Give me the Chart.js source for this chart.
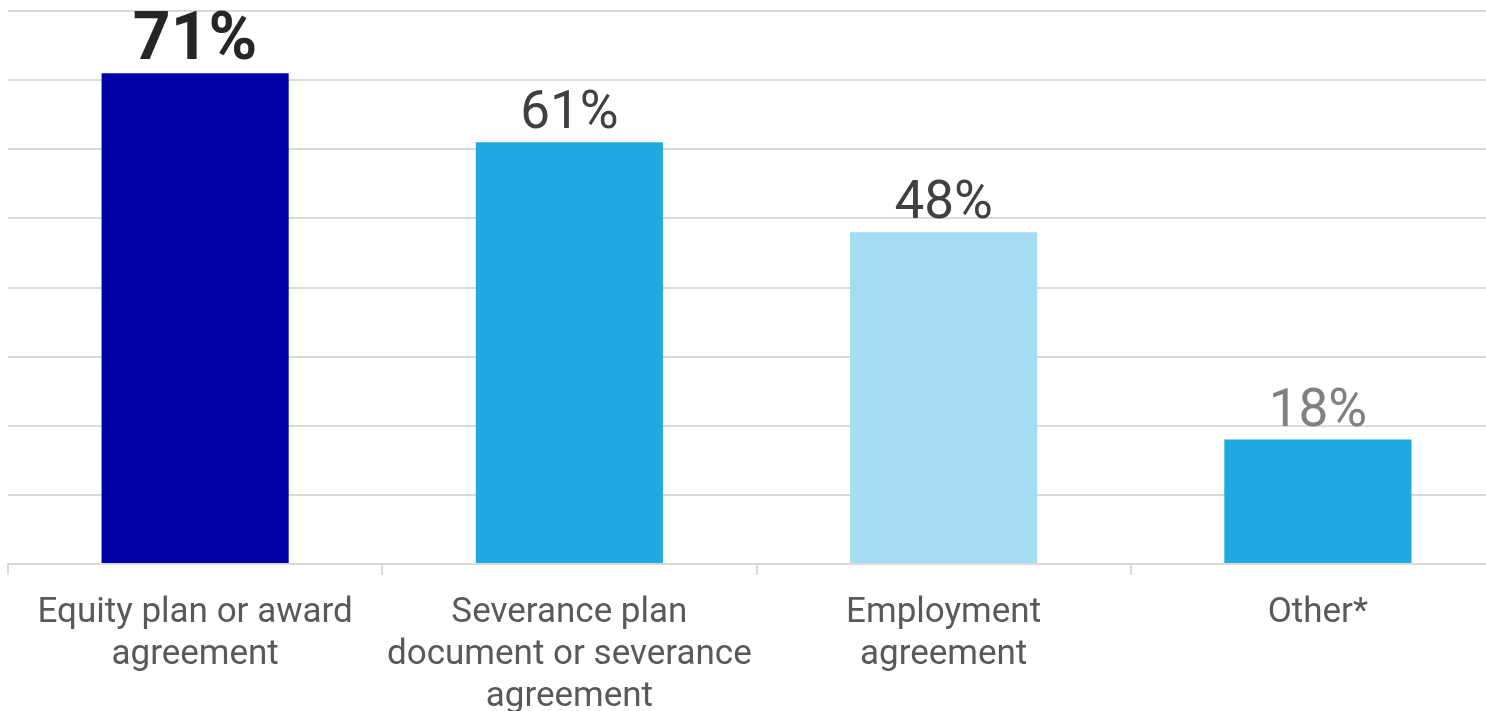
<!DOCTYPE html>
<html>
<head>
<meta charset="utf-8">
<script src="https://cdn.jsdelivr.net/npm/chart.js@4.4.0/dist/chart.umd.min.js"></script>
<style>
  html, body { margin: 0; padding: 0; background: #fff; overflow: hidden; }
  #wrap { width: 1505px; height: 711px; }
</style>
</head>
<body>
<div id="wrap"><canvas id="chart"></canvas></div>
<script>
const categories = [
  ['Equity plan or award', 'agreement'],
  ['Severance plan', 'document or severance', 'agreement'],
  ['Employment', 'agreement'],
  ['Other*']
];
const shares = [71, 61, 48, 18];
const barColors = ['#0000A8', '#1EABE2', '#A4DDF3', '#1EABE2'];
const valueStyles = [
  { font: 'bold 66px Roboto', color: '#262626' },
  { font: '53px Roboto', color: '#404040' },
  { font: '53px Roboto', color: '#404040' },
  { font: '53px Roboto', color: '#808080' }
];

// value labels above each bar
const valueLabels = {
  id: 'valueLabels',
  afterDatasetsDraw(chart) {
    const ctx = chart.ctx;
    const meta = chart.getDatasetMeta(0);
    ctx.save();
    ctx.textAlign = 'center';
    ctx.textBaseline = 'alphabetic';
    meta.data.forEach((bar, i) => {
      ctx.font = valueStyles[i].font;
      ctx.fillStyle = valueStyles[i].color;
      ctx.fillText(shares[i] + '%', bar.x, bar.y - 14);
    });
    ctx.restore();
  }
};

new Chart(document.getElementById('chart'), {
  type: 'bar',
  data: {
    labels: categories,
    datasets: [{
      data: shares,
      backgroundColor: barColors,
      barPercentage: 0.5,
      categoryPercentage: 1.0
    }]
  },
  options: {
    responsive: true,
    maintainAspectRatio: false,
    animation: false,
    layout: { padding: { left: 8, top: 11, right: 0, bottom: 0 } },
    plugins: {
      legend: { display: false },
      tooltip: { enabled: false }
    },
    scales: {
      x: {
        afterFit(scale) { scale.height = 147; },
        grid: {
          offset: true,
          drawOnChartArea: false,
          color: '#d9d9d9',
          lineWidth: 2,
          tickLength: 11
        },
        border: { color: '#d9d9d9', width: 2 },
        ticks: {
          color: '#595959',
          font: { family: 'Roboto', size: 35, lineHeight: 1.2 },
          maxRotation: 0,
          autoSkip: false,
          padding: 17
        }
      },
      y: {
        min: 0,
        max: 80,
        ticks: { display: false, stepSize: 10 },
        grid: { color: '#d9d9d9', lineWidth: 2, drawTicks: false },
        border: { display: false }
      }
    }
  },
  plugins: [valueLabels]
});
</script>
</body>
</html>
